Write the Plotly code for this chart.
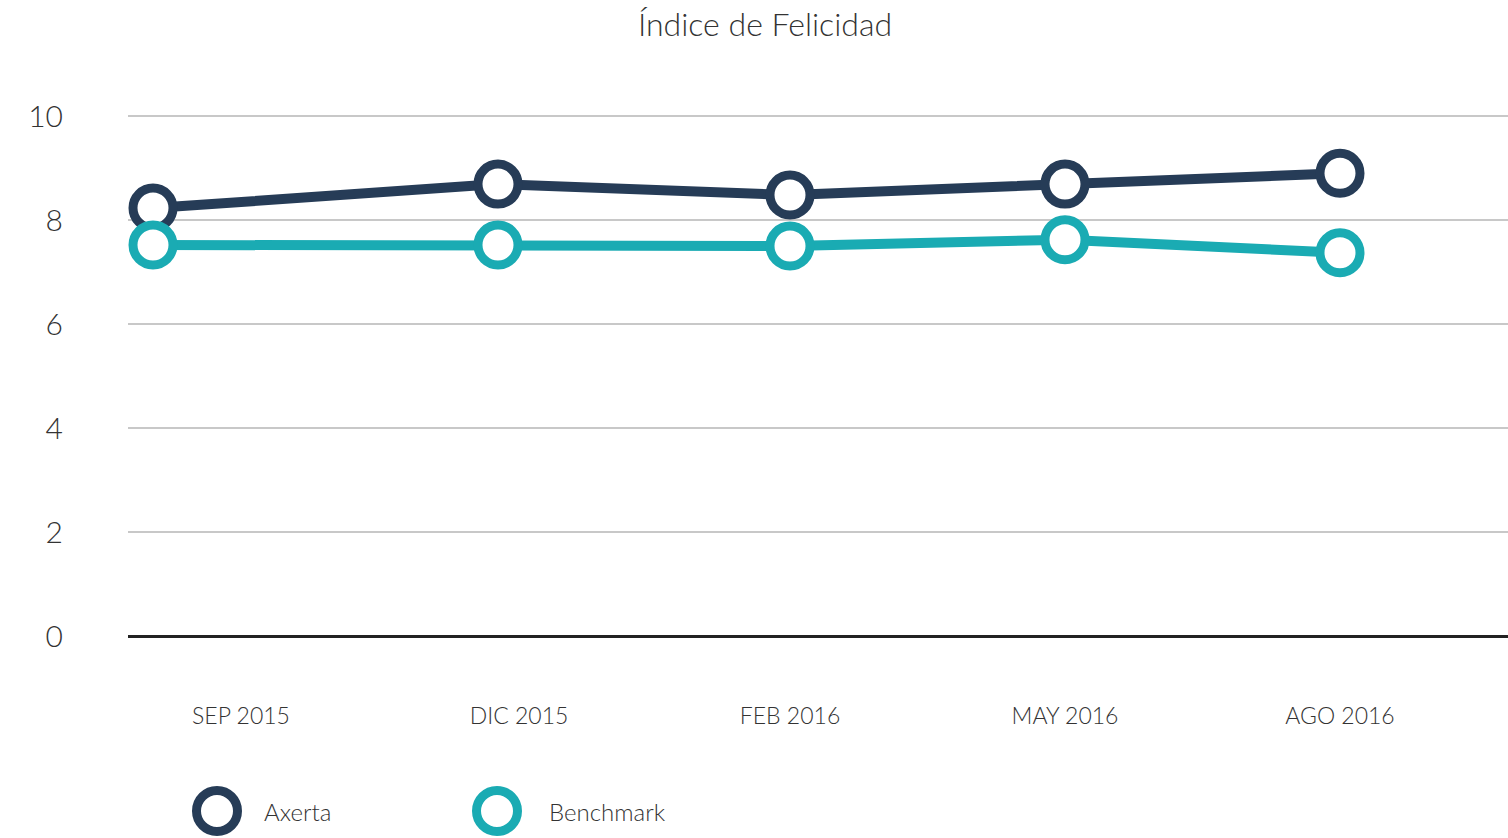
import plotly.graph_objects as go

# Data
periods = ["SEP 2015", "DIC 2015", "FEB 2016", "MAY 2016", "AGO 2016"]
point_pos = [0.25, 3.70, 6.62, 9.37, 12.12]   # x position of each measurement on the axis
label_pos = [1.13, 3.91, 6.62, 9.37, 12.12]   # x position of each period label
axerta = [8.23, 8.69, 8.48, 8.69, 8.90]
benchmark = [7.52, 7.52, 7.50, 7.62, 7.37]
y_ticks = [0, 2, 4, 6, 8, 10]

NAVY = "#263c57"
TEAL = "#1aabb3"
TEXT = "#333333"
FONT = "Lato"

fig = go.Figure()
for name, vals, col in [("Axerta", axerta, NAVY), ("Benchmark", benchmark, TEAL)]:
    fig.add_trace(go.Scatter(
        x=point_pos, y=vals, name=name, mode="lines+markers",
        line=dict(color=col, width=10),
        marker=dict(size=40, color="white", line=dict(color=col, width=9)),
        cliponaxis=False, showlegend=False,
    ))

# Legend drawn as shapes + annotations in paper space
legend_items = [("Axerta", NAVY, 217, 262), ("Benchmark", TEAL, 497, 547)]
W, H = 1508, 838
PW, PH = W - 128, 600
shapes = []
annotations = []
for name, col, cx, tx in legend_items:
    r = 20.5
    shapes.append(dict(type="circle", xref="paper", yref="paper",
                       x0=(cx - r - 128) / PW, x1=(cx + r - 128) / PW,
                       y0=(700 - (811 + r)) / PH, y1=(700 - (811 - r)) / PH,
                       line=dict(color=col, width=9), fillcolor="white"))
    annotations.append(dict(text=name, xref="paper", yref="paper",
                            x=(tx - 128) / PW, y=(700 - 811) / PH,
                            xanchor="left", yanchor="middle", showarrow=False,
                            font=dict(family=FONT, size=24, color=TEXT, weight=300)))

fig.update_layout(
    width=W, height=H,
    margin=dict(l=128, r=0, t=100, b=138),
    paper_bgcolor="white", plot_bgcolor="white",
    title=dict(text="Índice de Felicidad", x=765 / W, xanchor="center",
               y=1 - 25 / H, yanchor="middle",
               font=dict(family=FONT, size=32, color=TEXT, weight=300)),
    font=dict(family=FONT, color=TEXT, weight=300),
    xaxis=dict(range=[0, 13.8], tickmode="array", tickvals=label_pos, ticktext=periods,
               showgrid=False, zeroline=False, showline=False, ticks="",
               tickfont=dict(family=FONT, size=23, color=TEXT, weight=300)),
    yaxis=dict(range=[-64 / 52, 10 + 16 / 52], tickmode="array", tickvals=y_ticks,
               showgrid=True, gridcolor="#c8c8c8", gridwidth=2,
               zeroline=True, zerolinecolor="#222222", zerolinewidth=2.5,
               showline=False, ticks="", ticklabelstandoff=64,
               tickfont=dict(family=FONT, size=30, color=TEXT, weight=300)),
    shapes=shapes, annotations=annotations,
)

fig.write_html("out.html", config={"displayModeBar": False},
               post_script="document.body.style.margin='0';document.body.style.overflow='hidden';")
